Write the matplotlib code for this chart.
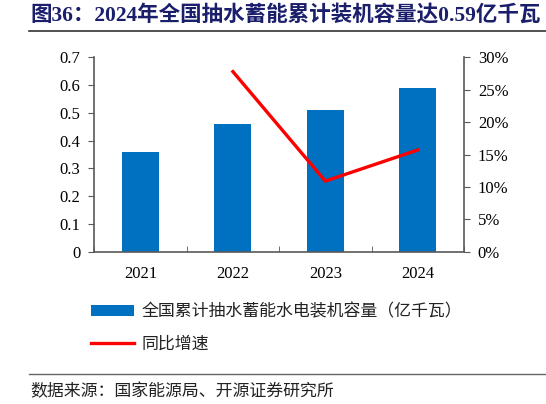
import numpy as np
import matplotlib
matplotlib.use("Agg")
import matplotlib.pyplot as plt
from matplotlib.lines import Line2D
from matplotlib.patches import Patch

plt.rcParams['font.family'] = ['Liberation Serif', 'Noto Sans CJK SC', 'DejaVu Sans']

# data
years = ['2021', '2022', '2023', '2024']
capacity = [0.36, 0.46, 0.51, 0.59]          # 亿千瓦
growth_years = ['2022', '2023', '2024']
growth = [27.8, 10.9, 15.7]                   # %
left_ticks = [0, 0.1, 0.2, 0.3, 0.4, 0.5, 0.6, 0.7]
left_labels = ['0', '0.1', '0.2', '0.3', '0.4', '0.5', '0.6', '0.7']
right_ticks = [0, 5, 10, 15, 20, 25, 30]

title = '图36：2024年全国抽水蓄能累计装机容量达0.59亿千瓦'
bar_label = '全国累计抽水蓄能水电装机容量（亿千瓦）'
line_label = '同比增速'
source = '数据来源：国家能源局、开源证券研究所'

bar_color = '#0070C0'
line_color = '#FF0000'
axis_color = '#595959'

fig = plt.figure(figsize=(5.46, 4.04), dpi=100)
ax = fig.add_axes([0.1727, 0.377, 0.677, 0.481])

x = np.arange(len(years))
ax.bar(x, capacity, width=0.4, color=bar_color, zorder=2)
ax.set_xlim(-0.5, len(years) - 0.5)
ax.set_ylim(0, 0.7)
ax.set_yticks(left_ticks)
ax.set_yticklabels(left_labels, fontsize=12)
ax.set_xticks(x)
ax.set_xticklabels(years, fontsize=12)
ax.tick_params(axis='x', length=0, pad=10)
ax.set_xticks(np.arange(len(years) + 1) - 0.5, minor=True)
ax.tick_params(axis='x', which='minor', direction='in', length=4, color=axis_color)
ax.tick_params(axis='y', direction='out', length=4, color=axis_color, pad=6)
ax.spines['top'].set_visible(False)
ax.spines['right'].set_visible(False)
for s in ['left', 'bottom']:
    ax.spines[s].set_color(axis_color)
    ax.spines[s].set_linewidth(1.2)

ax2 = ax.twinx()
gx = [years.index(y) for y in growth_years]
ax2.plot(gx, growth, color=line_color, linewidth=2.4, zorder=3)
ax2.set_ylim(0, 30)
ax2.set_yticks(right_ticks)
ax2.set_yticklabels([f'{t}%' for t in right_ticks], fontsize=12)
ax2.tick_params(axis='y', direction='out', length=4, color=axis_color, pad=6)
for s in ['top', 'left', 'bottom']:
    ax2.spines[s].set_visible(False)
ax2.spines['right'].set_color(axis_color)
ax2.spines['right'].set_linewidth(1.2)

# legend
handles = [Patch(facecolor=bar_color, edgecolor='none'),
           Line2D([], [], color=line_color, linewidth=2.4)]
fig.legend(handles, [bar_label, line_label], loc='upper left',
           bbox_to_anchor=(0.155, 0.268), frameon=False,
           prop={'family': ['Noto Sans CJK SC'], 'size': 12.2},
           handlelength=2.5, handleheight=0.6, labelspacing=0.85,
           handletextpad=0.45, borderaxespad=0, labelcolor='#222222')

# title, rules and source
fig.text(0.055, 0.962, title, fontsize=15.5, fontweight='bold',
         color='#1B1F6B', va='center', ha='left')
fig.add_artist(Line2D([0.053, 1.0], [0.923, 0.923], color='#333333', linewidth=1.2))
fig.add_artist(Line2D([0.053, 1.0], [0.074, 0.074], color='#666666', linewidth=1.0))
fig.text(0.055, 0.031, source, fontsize=12.2, color='#222222', va='center', ha='left',
         family=['Noto Sans CJK SC'])

fig.savefig('out.png', dpi=100)
